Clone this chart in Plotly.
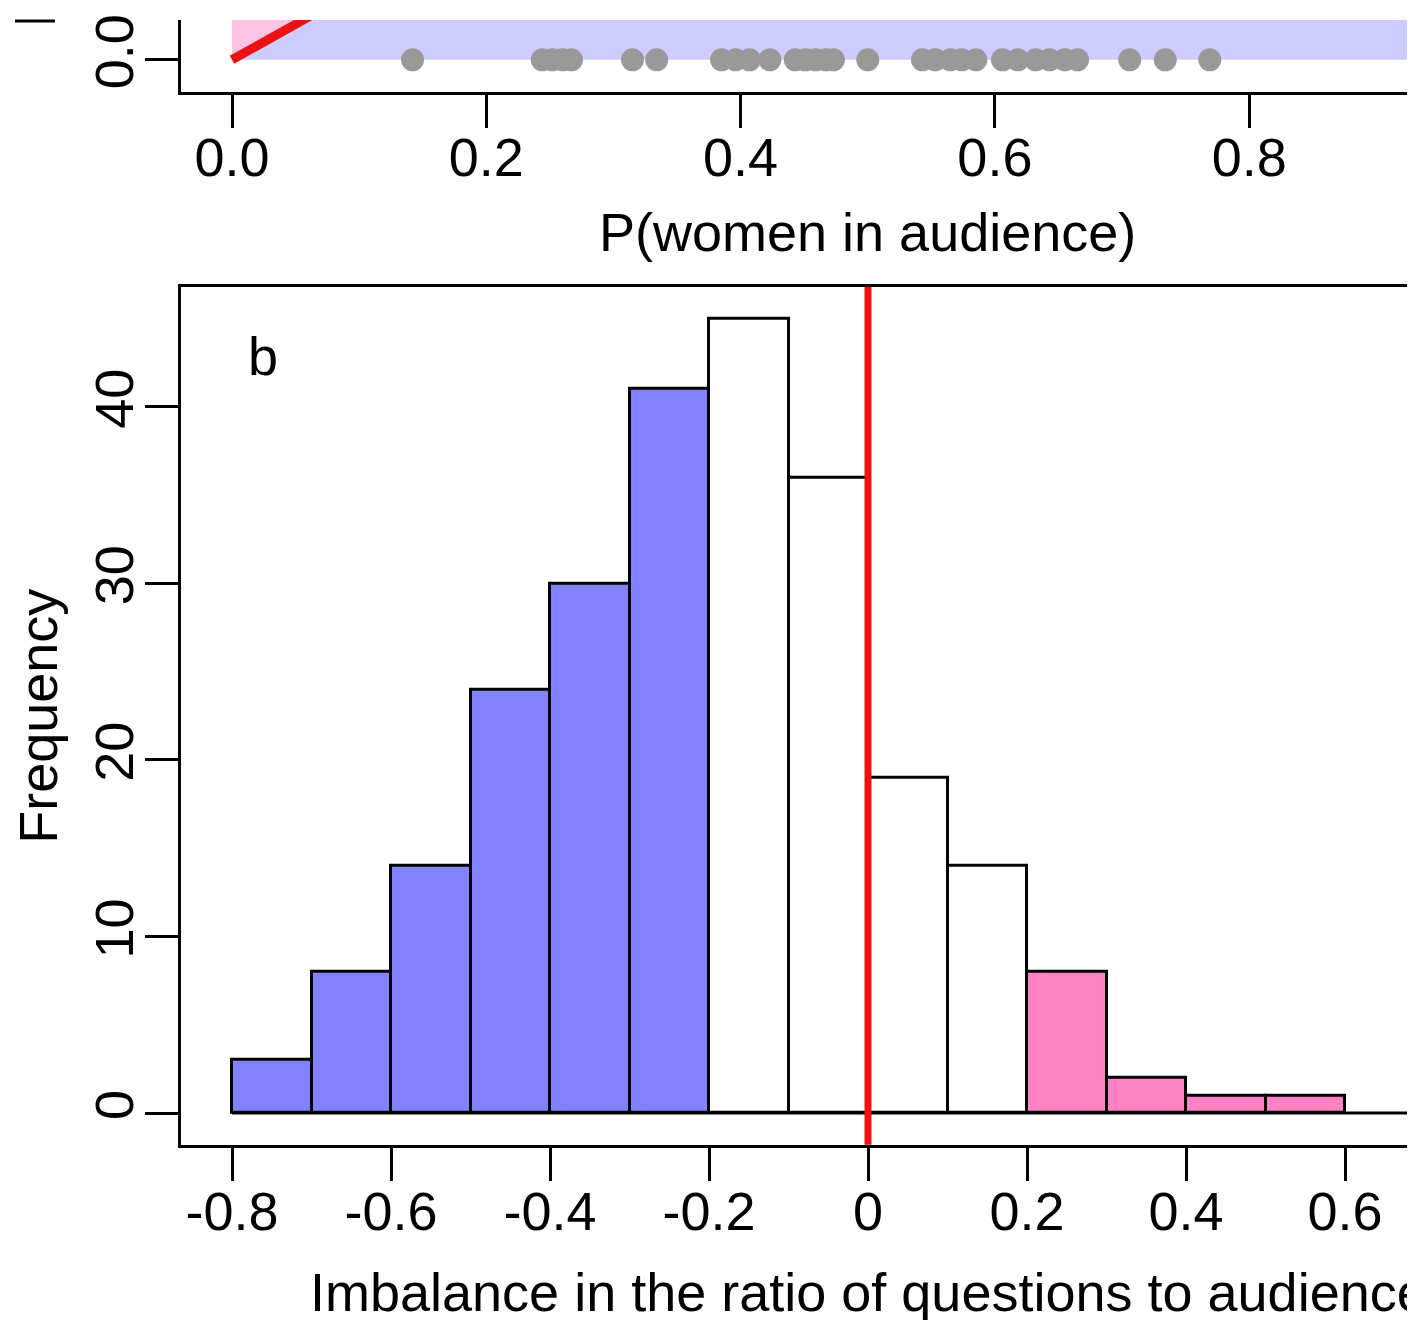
import plotly.graph_objects as go

# ---------------- data ----------------
# Panel a (top, partially visible): observed P(women in audience) per talk
audience_p = [0.142, 0.244, 0.252, 0.260, 0.267, 0.315, 0.334,
              0.385, 0.396, 0.407, 0.423, 0.443, 0.451, 0.459, 0.467, 0.473,
              0.500,
              0.543, 0.553, 0.565, 0.574, 0.585,
              0.606, 0.618, 0.632, 0.643, 0.655, 0.665,
              0.706, 0.734, 0.769]
top_xticks = [0.0, 0.2, 0.4, 0.6, 0.8]
top_xticklabels = ["0.0", "0.2", "0.4", "0.6", "0.8"]

# Panel b (histogram)
bin_edges = [-0.8, -0.7, -0.6, -0.5, -0.4, -0.3, -0.2, -0.1, 0.0, 0.1, 0.2, 0.3, 0.4, 0.5, 0.6]
counts = [3, 8, 14, 24, 30, 41, 45, 36, 19, 14, 8, 2, 1, 1]
bot_xticks = [-0.8, -0.6, -0.4, -0.2, 0.0, 0.2, 0.4, 0.6]
bot_xticklabels = ["-0.8", "-0.6", "-0.4", "-0.2", "0", "0.2", "0.4", "0.6"]
bot_yticks = [0, 10, 20, 30, 40]

# ---------------- style ----------------
FONT = "Liberation Sans, Arial, Helvetica, sans-serif"
FS = 54
OFF = 8                      # page body margin
W, H = 1415 - OFF, 1320 - OFF
BLUE = "#8282ff"
PINK = "#ff82c4"
LAVENDER = "#ccccff"
LIGHTPINK = "#ffc4e4"
RED = "#ee1111"
GREY = "#999999"

def px_x(p):
    return (p - OFF) / W

def px_y(p):
    return (H - (p - OFF)) / H

left = px_x(181)
bot_dom = [px_y(1144), px_y(282)]
top_dom = [px_y(86), px_y(14)]

fig = go.Figure()

# ---- top panel ----
big = 2.0
fig.add_trace(go.Scatter(x=[0, big, big, 0], y=[0, 0, big, big], fill="toself",
                         fillcolor=LAVENDER, line=dict(width=0), mode="lines",
                         xaxis="x2", yaxis="y2", hoverinfo="skip"))
fig.add_trace(go.Scatter(x=[0, big, 0], y=[0, big, big], fill="toself",
                         fillcolor=LIGHTPINK, line=dict(width=0), mode="lines",
                         xaxis="x2", yaxis="y2", hoverinfo="skip"))
fig.add_trace(go.Scatter(x=[0, big], y=[0, big], mode="lines",
                         line=dict(color=RED, width=9),
                         xaxis="x2", yaxis="y2", hoverinfo="skip"))
fig.add_trace(go.Scatter(x=audience_p, y=[0] * len(audience_p), mode="markers",
                         marker=dict(color=GREY, size=23, line=dict(width=0)),
                         xaxis="x2", yaxis="y2", cliponaxis=False))

# ---- histogram ----
centers = [(a + b) / 2 for a, b in zip(bin_edges[:-1], bin_edges[1:])]
widths = [b - a for a, b in zip(bin_edges[:-1], bin_edges[1:])]
colors = []
for a in bin_edges[:-1]:
    if a < -0.2 - 1e-9:
        colors.append(BLUE)
    elif a >= 0.2 - 1e-9:
        colors.append(PINK)
    else:
        colors.append("white")
fig.add_trace(go.Bar(x=centers, y=counts, width=widths,
                     marker=dict(color=colors, line=dict(color="black", width=3)),
                     xaxis="x", yaxis="y"))

axis_common = dict(showline=True, linecolor="black", linewidth=3,
                   ticks="outside", ticklen=33, tickwidth=3, tickcolor="black",
                   showgrid=False, zeroline=False, ticklabeloverflow="allow",
                   tickfont=dict(family=FONT, size=FS, color="black"))

fig.update_layout(
    width=W, height=H,
    margin=dict(l=0, r=0, t=0, b=0),
    paper_bgcolor="white", plot_bgcolor="white",
    showlegend=False, bargap=0,
    xaxis=dict(domain=[left, 1], range=[-0.8 - 51 / 795, -0.8 + (1415 - 232) / 795],
               anchor="y", mirror=True, tickvals=bot_xticks, ticktext=bot_xticklabels,
               ticklabelstandoff=-16, **axis_common),
    yaxis=dict(domain=bot_dom, range=[-1.8, 46.8], anchor="x",
               tickvals=bot_yticks, ticktext=[str(v) for v in bot_yticks],
               tickangle=-90, ticklabelstandoff=-10, **axis_common),
    xaxis2=dict(domain=[left, 1], range=[-51 / 1271.5, (1415 - 232) / 1271.5],
                anchor="y2", tickvals=top_xticks, ticktext=top_xticklabels,
                ticklabelstandoff=-16, **axis_common),
    yaxis2=dict(domain=top_dom, range=[-32 / 714, 40 / 714], anchor="x2",
                tickvals=[0.0], ticktext=["0.0"], tickangle=-90,
                ticklabelstandoff=-10, **axis_common),
    shapes=[
        dict(type="line", xref="x", yref="y", x0=-0.8, x1=0.8, y0=0, y1=0,
             line=dict(color="black", width=3), layer="above"),
        dict(type="line", xref="x", yref="y domain", x0=0, x1=0, y0=0, y1=1,
             line=dict(color=RED, width=7), layer="above"),
        dict(type="line", xref="paper", yref="paper", x0=px_x(15), x1=px_x(55),
             y0=px_y(15), y1=px_y(15), line=dict(color="black", width=3)),
    ],
    annotations=[
        dict(text="Imbalance in the ratio of questions to audience", xref="x", yref="paper",
             x=0.0, y=px_y(1292), showarrow=False, xanchor="center", yanchor="middle",
             font=dict(family=FONT, size=FS, color="black")),
        dict(text="P(women in audience)", xref="x2", yref="paper",
             x=0.5, y=px_y(227), showarrow=False, xanchor="center", yanchor="middle",
             font=dict(family=FONT, size=FS, color="black")),
        dict(text="Frequency", xref="paper", yref="paper",
             x=px_x(38), y=px_y(714), showarrow=False, textangle=-90,
             xanchor="center", yanchor="middle",
             font=dict(family=FONT, size=FS, color="black")),
        dict(text="b", xref="paper", yref="paper",
             x=px_x(263), y=px_y(352), showarrow=False,
             xanchor="center", yanchor="middle",
             font=dict(family=FONT, size=FS, color="black")),
    ],
)

fig.write_html("out.html")
